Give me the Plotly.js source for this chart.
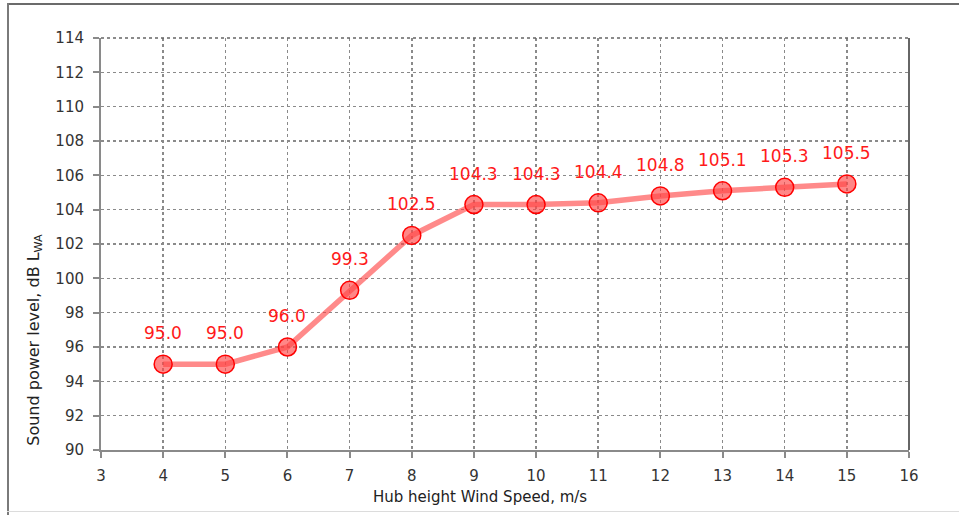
<!DOCTYPE html>
<html>
<head>
<meta charset="utf-8">
<script src="https://cdn.plot.ly/plotly-3.0.1.min.js"></script>
<style>
  html, body { margin: 0; padding: 0; background: #fff; }
  #wrap { position: relative; width: 959px; height: 515px; overflow: hidden; }
  #chart { position: absolute; left: 0; top: 0; width: 959px; height: 515px; }
  .b { position: absolute; pointer-events: none; }
</style>
</head>
<body>
<div id="wrap">
  <div id="chart"></div>
  <div class="b" style="left:7px; top:3px; width:952px; height:2px; background:#6b6b6b;"></div>
  <div class="b" style="left:7px; top:3px; width:2px; height:512px; background:#7a7a7a;"></div>
  <div class="b" style="left:7px; top:511px; width:952px; height:1px; background:#dcdcdc;"></div>
</div>
<script>
const windSpeed = [4, 5, 6, 7, 8, 9, 10, 11, 12, 13, 14, 15];
const soundPower = [95.0, 95.0, 96.0, 99.3, 102.5, 104.3, 104.3, 104.4, 104.8, 105.1, 105.3, 105.5];
const xTicks = [3, 4, 5, 6, 7, 8, 9, 10, 11, 12, 13, 14, 15, 16];
const yTicks = [90, 92, 94, 96, 98, 100, 102, 104, 106, 108, 110, 112, 114];

const fontFam = '"DejaVu Sans", "Noto Sans", sans-serif';

const trace = {
  x: windSpeed,
  y: soundPower,
  type: 'scatter',
  mode: 'lines+markers',
  line: { color: 'rgba(255,60,60,0.6)', width: 5.5 },
  marker: { size: 18, color: 'rgba(255,70,70,0.65)', line: { color: '#ff0000', width: 1.5 } },
  hoverinfo: 'x+y',
  showlegend: false
};

const labelAnn = windSpeed.map((x, i) => ({
  x: x, y: soundPower[i], xref: 'x', yref: 'y',
  text: soundPower[i].toFixed(1),
  showarrow: false, yshift: 31,
  xanchor: 'center', yanchor: 'middle',
  font: { family: fontFam, size: 17, color: '#ff1a1a' }
}));

const axisCommon = {
  showgrid: true, gridcolor: '#8a8a8a', gridwidth: 1.5, griddash: 'dot',
  showline: true, linecolor: '#8a8a8a', linewidth: 2,
  ticks: 'outside', ticklen: 6, tickcolor: '#8a8a8a', tickwidth: 2,
  zeroline: false, fixedrange: true,
  tickfont: { family: fontFam, size: 15, color: '#333' }
};

const layout = {
  width: 959, height: 515,
  margin: { l: 101, r: 50, t: 38, b: 65 },
  paper_bgcolor: '#ffffff',
  plot_bgcolor: '#ffffff',
  font: { family: fontFam, size: 14, color: '#333' },
  xaxis: Object.assign({}, axisCommon, {
    range: [3, 16], tickvals: xTicks, ticktext: xTicks.map(String),
    ticklabelstandoff: 5
  }),
  yaxis: Object.assign({}, axisCommon, {
    range: [90, 114], tickvals: yTicks, ticktext: yTicks.map(String),
    ticklabelstandoff: 6
  }),
  shapes: [
    { type: 'line', xref: 'paper', yref: 'paper', x0: 0, x1: 1, y0: 1, y1: 1,
      line: { color: '#666', width: 1.5, dash: 'dot' } },
    { type: 'line', xref: 'paper', yref: 'paper', x0: 1, x1: 1, y0: 0, y1: 1,
      line: { color: '#666', width: 2 } }
  ],
  annotations: labelAnn.concat([
    { xref: 'paper', yref: 'paper', x: -0.082, y: 0.267, textangle: -90,
      xanchor: 'center', yanchor: 'middle',
      text: 'Sound power level, dB L<sub>WA</sub>', showarrow: false,
      font: { family: fontFam, size: 16, color: '#222' } },
    { xref: 'paper', yref: 'paper', x: 0.469, y: -0.114,
      xanchor: 'center', yanchor: 'middle',
      text: 'Hub height Wind Speed, m/s', showarrow: false,
      font: { family: fontFam, size: 15, color: '#222' } }
  ])
};

Plotly.newPlot('chart', [trace], layout, { displayModeBar: false, staticPlot: true });
</script>
</body>
</html>
